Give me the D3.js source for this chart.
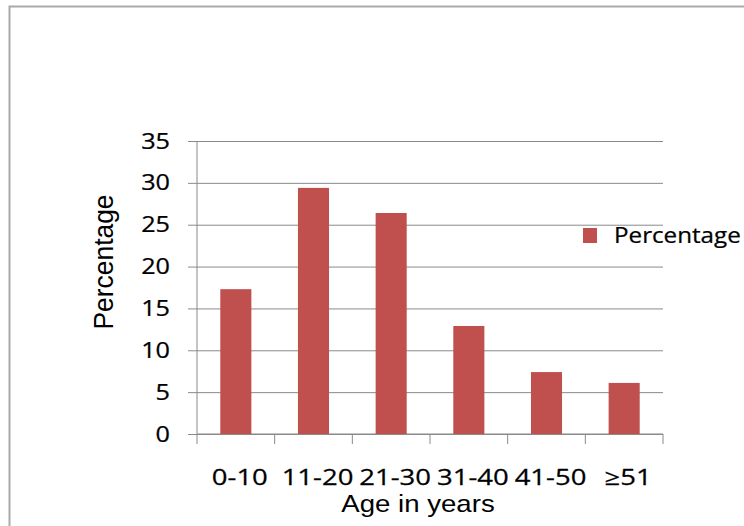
<!DOCTYPE html>
<html>
<head>
<meta charset="utf-8">
<script src="https://cdn.jsdelivr.net/npm/d3@7"></script>
<style>
  html, body { margin: 0; padding: 0; background: #fff; }
  svg { display: block; }
  text { stroke: #000; stroke-width: 0.25px; }
</style>
</head>
<body>
<svg id="chart" width="744" height="526"></svg>
<script>
// Age groups and share of cases in each group
const categories = ["0-10", "11-20", "21-30", "31-40", "41-50", "\u226551"];
const percentages = [17.3, 29.4, 26.4, 12.9, 7.4, 6.1];
const yTicks = [0, 5, 10, 15, 20, 25, 30, 35];
const seriesName = "Percentage";

const svg = d3.select("#chart");
const W = 744, H = 526;
const margin = { left: 197, right: 81, top: 141, bottom: 92 };
const plotW = W - margin.left - margin.right;
const plotH = H - margin.top - margin.bottom;
const barColor = "#C0504D";
const axisColor = "#8a8a8a";
const numFont = "'Open Sans', Lato, sans-serif";

// outer frame
svg.append("path")
  .attr("d", `M9.5,${H} V6.5 H${W}`)
  .attr("fill", "none")
  .attr("stroke", "#a9a9a9")
  .attr("stroke-width", 2);

const g = svg.append("g").attr("transform", `translate(${margin.left},${margin.top})`);

const x = d3.scaleBand()
  .domain(categories)
  .range([0, plotW])
  .paddingInner(0.6)
  .paddingOuter(0.3);

const y = d3.scaleLinear().domain([0, 35]).range([plotH, 0]);

// horizontal gridlines with outward ticks
g.append("g")
  .call(d3.axisLeft(y).tickValues(yTicks).tickSize(-plotW).tickFormat(""))
  .call(a => a.select(".domain").remove())
  .call(a => a.selectAll(".tick line").attr("stroke", axisColor).attr("x1", -9));

// y tick labels
g.append("g")
  .selectAll("text")
  .data(yTicks)
  .join("text")
  .attr("text-anchor", "end")
  .attr("dy", "0.36em")
  .attr("font-family", numFont)
  .attr("font-size", 21)
  .attr("fill", "#000")
  .attr("transform", d => `translate(-27,${y(d)}) scale(1.2,1)`)
  .text(d => d);

// y axis line
g.append("line")
  .attr("x1", 0).attr("x2", 0).attr("y1", 0).attr("y2", plotH)
  .attr("stroke", axisColor);

// x axis line with ticks at category boundaries
g.append("line")
  .attr("x1", 0).attr("x2", plotW).attr("y1", plotH).attr("y2", plotH)
  .attr("stroke", axisColor);
const step = x.step();
g.append("g")
  .selectAll("line")
  .data(d3.range(categories.length + 1))
  .join("line")
  .attr("x1", i => i * step).attr("x2", i => i * step)
  .attr("y1", plotH).attr("y2", plotH + 10)
  .attr("stroke", axisColor);

// bars
g.append("g")
  .selectAll("rect")
  .data(categories.map((c, i) => ({ c, v: percentages[i] })))
  .join("rect")
  .attr("x", d => x(d.c))
  .attr("y", d => y(d.v))
  .attr("width", x.bandwidth())
  .attr("height", d => plotH - y(d.v))
  .attr("fill", barColor);

// x category labels
g.append("g")
  .selectAll("text")
  .data(categories)
  .join("text")
  .attr("transform", d => `translate(${x(d) + x.bandwidth() / 2 + 4},${plotH + 51}) scale(1.25,1)`)
  .attr("text-anchor", "middle")
  .attr("font-family", numFont)
  .attr("font-size", 22)
  .attr("fill", "#000")
  .text(d => d);

// x axis title
svg.append("text")
  .attr("transform", `translate(418,512) scale(1.15,1)`)
  .attr("text-anchor", "middle")
  .attr("font-family", "'Liberation Sans', Arial, sans-serif")
  .attr("font-size", 24)
  .attr("fill", "#000")
  .style("stroke-width", 0)
  .text("Age in years");

// y axis title
svg.append("text")
  .attr("transform", `translate(113,262) rotate(-90) scale(1.1,1.15)`)
  .attr("text-anchor", "middle")
  .attr("font-family", "'Liberation Sans', Arial, sans-serif")
  .attr("font-size", 24)
  .attr("fill", "#000")
  .style("stroke-width", 0)
  .text("Percentage");

// legend
const legend = svg.append("g").attr("transform", "translate(583,228)");
legend.append("rect").attr("width", 14).attr("height", 15).attr("fill", barColor).style("stroke-width", 0);
legend.append("text")
  .attr("transform", "translate(31,15) scale(1.1,1)")
  .attr("font-family", numFont)
  .attr("font-size", 22)
  .attr("fill", "#000")
  .text(seriesName);
</script>
</body>
</html>
